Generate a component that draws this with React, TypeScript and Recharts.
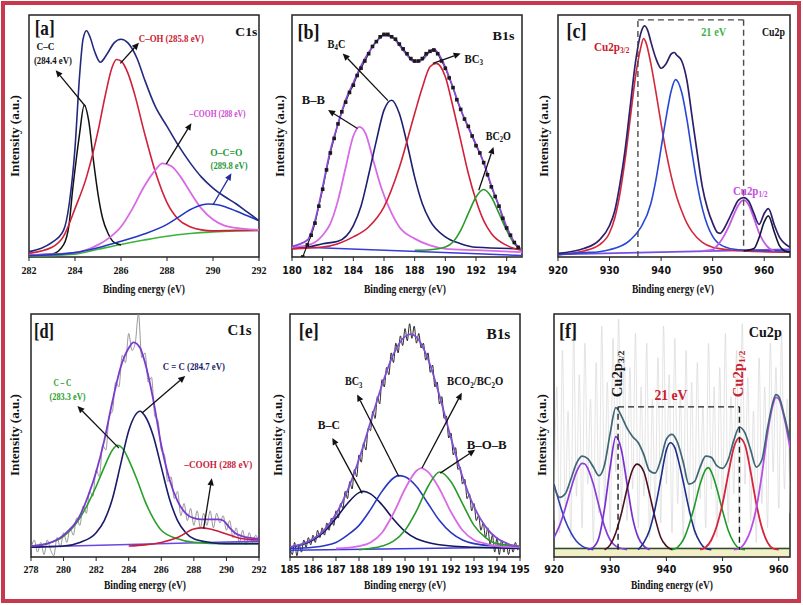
import React from 'react';
import { LineChart, Line, XAxis, YAxis, ReferenceLine, ReferenceDot, ReferenceArea } from 'recharts';

type Pt = [number, number];

const SERIF = '"Liberation Serif", "Times New Roman", Times, serif';
const NARROW = '"Liberation Sans Narrow", "Arial Narrow", "DejaVu Sans Condensed", "Liberation Sans", sans-serif';

// ---------- [a] C1s ----------
const aTicks = [282, 284, 286, 288, 290, 292];
const aBase: Pt[] = [[282, 0.4], [284, 1.2], [285, 3.2], [286, 5.2], [287, 7], [288, 8.6], [289, 9.7], [290, 10.4], [291, 10.8], [292, 11]];
const aCC: Pt[] = [[282, 0.8], [283, 1.2], [283.5, 5], [283.75, 14], [283.9, 28], [284.05, 40], [284.2, 51], [284.4, 62.7], [284.6, 56], [284.8, 40], [285, 26], [285.2, 16], [285.45, 9.5], [285.7, 6], [286, 5]];
const aCOH: Pt[] = [[282, 1.5], [283, 4], [283.5, 8.5], [284, 20], [284.5, 33], [285, 52], [285.3, 66], [285.6, 78], [285.8, 81.6], [286, 81], [286.3, 76], [286.6, 67], [287, 52], [287.5, 35], [288, 22.5], [288.5, 15.5], [289, 12.5], [289.5, 11.2], [290, 10.8], [291, 11], [292, 11]];
const aCOOH: Pt[] = [[282, 0.8], [284, 1.8], [285, 5], [285.5, 8], [286, 12.5], [286.5, 20], [287, 29], [287.5, 36], [287.8, 38.7], [288.2, 37.5], [288.6, 33], [289, 27], [289.5, 20], [290, 15.5], [290.5, 13], [291, 12], [292, 11.2]];
const aOCO: Pt[] = [[282, 0.5], [284, 1.8], [285, 3.8], [286, 6.5], [287, 9.5], [288, 13.5], [288.5, 16.5], [289, 19.5], [289.5, 21.5], [289.8, 21.9], [290.2, 21.6], [290.6, 20.5], [291, 19], [291.5, 17], [292, 15]];
const aEnvelope: Pt[] = [[282, 2.2], [282.5, 3.5], [283, 6], [283.5, 11], [283.75, 22], [284, 45], [284.2, 75], [284.35, 90], [284.5, 93.5], [284.65, 91], [284.85, 85], [285.1, 80.5], [285.4, 84], [285.7, 88.5], [286, 90], [286.3, 88.5], [286.7, 82], [287, 74], [287.5, 62], [288, 54], [288.5, 46], [289, 39], [289.5, 33], [290, 28.5], [290.5, 25], [291, 22], [291.5, 18.5], [292, 15]];

// ---------- [b] B1s ----------
const bTicks = [180, 182, 184, 186, 188, 190, 192, 194];
const bBase: Pt[] = [[180, 4.2], [195, 0.6]];
const bBB: Pt[] = [[180, 4.1], [181, 4.8], [182, 9], [182.5, 13.8], [183, 23.4], [183.5, 37], [184, 50], [184.4, 53.8], [184.8, 51], [185.3, 40], [185.8, 29], [186.5, 18], [187, 12.4], [188, 7.6], [189, 4.8], [190, 3.4], [192, 2.8], [195, 2]];
const bB4C: Pt[] = [[180, 3.4], [181, 4], [182, 5.5], [183, 6.5], [184, 13], [184.5, 21], [185, 34], [185.5, 48], [186, 60.7], [186.5, 64.8], [187, 59.3], [187.5, 47], [188, 33], [188.5, 22], [189, 15], [190, 8.3], [191, 5.5], [192, 4], [195, 3.4]];
const bBC3: Pt[] = [[180, 3.4], [182, 4.1], [183, 5.5], [184, 8.3], [185, 12.4], [186, 20.7], [187, 37], [188, 59.3], [188.5, 70], [189, 78.6], [189.4, 80], [190, 74.5], [190.5, 62], [191, 48.3], [191.5, 34.5], [192, 23.4], [192.5, 15], [193, 9.7], [194, 4.8], [195, 2.8]];
const bBC2O: Pt[] = [[188, 2.8], [189, 3], [190, 4.1], [190.5, 6.2], [191, 11], [191.5, 18], [192, 24.8], [192.5, 27.9], [193, 24.8], [193.5, 18], [194, 11], [194.5, 5.5], [195, 2.8]];
const bEnvelope: Pt[] = [[180, 4.4], [181, 7], [181.5, 15], [182, 29], [182.5, 44], [183, 55], [183.5, 65], [184, 72], [184.5, 79], [185, 84.5], [185.5, 89], [186, 91.5], [186.5, 91], [187, 87.5], [187.5, 83.5], [188, 80.5], [188.5, 81.5], [189, 85], [189.25, 86], [189.5, 84.5], [190, 78.5], [190.5, 70], [191, 61], [191.5, 53.5], [192, 46.5], [192.5, 39], [193, 29.5], [193.5, 21], [194, 12.5], [194.5, 6], [195, 3]];
const bData: Pt[] = [[180.7, 0], [181, 5], [181.25, 9], [181.5, 14], [181.75, 21], [182, 28], [182.25, 36], [182.5, 43], [182.75, 49], [183, 55], [183.25, 60], [183.5, 64], [183.75, 68], [184, 71], [184.25, 75], [184.5, 78], [184.75, 81], [185, 84], [185.25, 87], [185.5, 89], [185.75, 91], [186, 92], [186.25, 92], [186.5, 91], [186.75, 90], [187, 88], [187.25, 86], [187.5, 84], [187.75, 82], [188, 81], [188.25, 81], [188.5, 82], [188.75, 84], [189, 85], [189.25, 85.5], [189.5, 84], [189.75, 81], [190, 78], [190.25, 74], [190.5, 70], [190.75, 65], [191, 61], [191.25, 57], [191.5, 54], [191.75, 50], [192, 46], [192.25, 43], [192.5, 39], [192.75, 34], [193, 29], [193.25, 25], [193.5, 21], [193.75, 16], [194, 12], [194.25, 9], [194.5, 6], [194.75, 4]];

// ---------- [c] Cu2p ----------
const cTicks = [920, 930, 940, 950, 960];
const cBase: Pt[] = [[920, 1.1], [965, 3.2]];
const cRed: Pt[] = [[920, 1], [925, 2.5], [928, 5], [930, 10], [931, 16], [932, 26], [933, 40], [934, 57], [935, 74], [936, 86], [936.6, 90.3], [937, 89], [938, 80], [939, 68], [940, 55], [941, 43], [942, 33], [943, 25], [944, 19], [945, 14], [946, 10.5], [948, 6], [950, 4], [953, 3], [956, 2.5], [965, 2]];
const cBlue: Pt[] = [[920, 1], [925, 1.8], [928, 2.2], [930, 3], [934, 7], [936, 12], [938, 22], [939, 32], [940, 45], [941, 58], [942, 69], [942.8, 73.3], [944, 68], [945, 57], [946, 43], [947, 30], [948, 20], [949, 13], [950, 8.5], [952, 4.5], [955, 3], [965, 2.5]];
const cMag: Pt[] = [[948, 2.5], [950, 3], [951, 5], [952, 8], [953, 12], [954, 17], [955, 21.5], [956, 23.5], [957, 21.5], [958, 16], [959, 10], [960, 6], [961, 3.5], [962, 2.5]];
const cSat: Pt[] = [[956, 2.5], [958, 3.5], [959, 8], [960, 14.5], [960.8, 17], [962, 10], [963, 4.5], [964, 2.5], [965, 2]];
const cEnvelope: Pt[] = [[920, 1.5], [925, 3.5], [928, 7], [930, 13], [931, 19], [932, 30], [933, 44], [934, 62], [935, 80], [936, 92], [936.8, 95.5], [937.5, 93], [938, 89], [939, 82], [940, 78], [941, 80], [942, 84], [942.6, 84.5], [943, 83.5], [944, 81], [945, 73], [946, 58], [947, 43], [948, 29], [949, 20], [950, 14], [951, 10], [951.5, 9.8], [952, 11], [953, 15], [954, 19.5], [955, 23.5], [956, 24.5], [957, 23], [958, 18], [959, 13.5], [960, 18], [960.8, 20], [962, 13], [963, 8], [964, 5.5], [965, 4]];

// ---------- [d] C1s ----------
const dTicks = [278, 280, 282, 284, 286, 288, 290, 292];
const dBase: Pt[] = [[278, 4.1], [292, 6.5]];
const dNoise = [3, 7, 2, 6, 1, 7, 3, 0.5, 8, 4, 10, 6, 12, 9, 16, 13, 21, 18, 27, 25, 36, 33, 46, 44, 58, 60, 72, 70, 83, 80, 92, 85, 88, 100, 82, 84, 72, 74, 58, 56, 44, 42, 31, 33, 24, 27, 17, 22, 15, 20, 13, 19, 12, 18, 13, 19, 12, 18, 14, 17, 11, 15, 8, 12, 6, 11, 5, 10, 6, 9, 5];
const dGreen: Pt[] = [[278, 4.5], [279, 5.5], [280, 8.5], [281, 16], [281.5, 22], [282, 29], [282.5, 37], [283, 44], [283.3, 46], [283.7, 44], [284, 40], [284.5, 32], [285, 23], [285.5, 16], [286, 11], [287, 7.5], [288, 6], [290, 5.5], [292, 5.5]];
const dNavy: Pt[] = [[278, 4], [279, 4.2], [280, 4.5], [281, 6], [282, 10], [282.5, 15], [283, 24], [283.5, 38], [284, 52], [284.7, 60], [285, 58], [285.5, 50], [286, 37], [286.5, 24], [287, 15], [287.5, 10], [288, 7.5], [289, 6], [290, 5.5], [292, 5.5]];
const dRed: Pt[] = [[284, 4.5], [285, 5], [286, 6], [287, 8], [288, 11.5], [288.5, 12], [289, 11.5], [290, 9.5], [291, 7.5], [292, 7]];
const dEnvelope: Pt[] = [[278, 4.5], [279, 5.5], [280, 9], [281, 17], [281.5, 25], [282, 35], [282.5, 48], [283, 64], [283.5, 78], [284, 86], [284.3, 88.3], [284.7, 86], [285, 80], [285.5, 65], [286, 46], [286.5, 32], [287, 23], [287.5, 18], [288, 16], [288.5, 15.5], [289, 15.5], [289.5, 15.5], [289.8, 15], [290.2, 12], [290.5, 10], [291, 8.5], [292, 7.5]];

// ---------- [e] B1s ----------
const eTicks = [185, 186, 187, 188, 189, 190, 191, 192, 193, 194, 195];
const eBase: Pt[] = [[185, 2.8], [195, 4.1]];
const eNoise = [
  4, 1, 6, 0.5, 5, 2, 7, 4, 8, 5,
  9, 6, 11, 8, 12, 9, 14, 11, 16, 13,
  19, 16, 22, 20, 27, 24, 31, 28, 36, 33,
  42, 39, 47, 44, 53, 52, 60, 57, 66, 63,
  73, 70, 78, 75, 84, 80, 88, 84, 91, 87,
  94, 89, 96, 90, 95, 88, 92, 86, 88, 81,
  84, 76, 79, 70, 72, 63, 66, 57, 58, 49,
  51, 42, 45, 36, 37, 30, 32, 24, 26, 19,
  22, 15, 17, 11, 14, 8, 12, 5, 9, 2,
  8, 1, 7, 2, 6, 1, 5, 2, 6, 3,
  5,
];
const eBC: Pt[] = [[185, 4], [185.5, 5], [186, 7], [186.5, 10.5], [187, 16], [187.5, 22], [188, 26.5], [188.2, 27], [188.5, 26], [189, 21.5], [189.5, 15.5], [190, 10.5], [190.5, 7.5], [191, 6], [192, 4.5], [193, 4], [195, 3.5]];
const eBC3: Pt[] = [[185, 3.5], [186, 4], [187, 6], [187.5, 9], [188, 13], [188.5, 19.5], [189, 27], [189.5, 32.5], [189.7, 33.5], [190, 33], [190.5, 29], [191, 22], [191.5, 15], [192, 10], [192.5, 7], [193, 5.5], [194, 4.5], [195, 4]];
const eBCO: Pt[] = [[187, 3.5], [188, 4.5], [188.5, 6], [189, 10], [189.5, 18], [190, 28], [190.5, 35.5], [190.7, 36.6], [191, 35], [191.5, 28], [192, 18.5], [192.5, 11], [193, 7], [193.5, 5.5], [194, 4.5], [195, 4]];
const eBOB: Pt[] = [[188, 3], [189, 4.5], [189.5, 6.5], [190, 11], [190.5, 19], [191, 29], [191.5, 35], [192, 31], [192.5, 22], [193, 13], [193.5, 8], [194, 5.5], [195, 4.5]];
const eEnvelope: Pt[] = [[185, 4.2], [185.5, 5.3], [186, 7.4], [186.5, 11.3], [187, 17.7], [187.5, 27.3], [188, 40.2], [188.5, 55.5], [189, 70.8], [189.5, 83.5], [190, 90.7], [190.25, 91.7], [190.5, 90.5], [191, 81.5], [191.5, 66.4], [192, 48.9], [192.5, 33], [193, 20.7], [193.5, 12.5], [194, 7.7], [194.5, 5.3], [195, 4.2]];

// ---------- [f] Cu2p ----------
const fTicks = [920, 930, 940, 950, 960];
const fBase: Pt[] = [[920, 3.5], [962, 3.5]];
const fNoise = [
  15, 70, 10, 85, 20, 60, 8, 92, 25, 75,
  12, 88, 30, 65, 6, 80, 18, 95, 22, 72,
  10, 90, 35, 98, 20, 85, 15, 78, 28, 92,
  12, 70, 25, 88, 8, 65, 20, 82, 14, 95,
  30, 75, 10, 90, 22, 68, 6, 85, 18, 72,
  9, 80, 24, 62, 12, 88, 28, 70, 8, 78,
  20, 92, 14, 66, 26, 85, 10, 96, 30, 74,
  15, 60, 6, 82, 22, 70, 12, 88, 35, 78,
  20, 92, 28, 65, 18,
];
const fBlue: Pt[] = [[920, 30], [921, 22], [922, 15], [923, 10], [924, 6.5], [925, 4.5], [926, 3.5], [927, 3]];
const fViolet: Pt[] = [[920, 8], [921, 13], [922, 20], [923, 28], [924, 35], [925, 38.5], [925.5, 38.3], [926, 36.5], [927, 30], [928, 21], [929, 12.5], [930, 7], [931, 4.5], [932, 3.5], [933, 3]];
const fPurple: Pt[] = [[926, 3], [927, 4], [928, 8], [929, 20], [930, 37], [931, 49.5], [932, 44], [933, 30], [934, 16], [935, 8], [936, 4.5], [937, 3]];
const fMaroon: Pt[] = [[929, 3], [930, 5], [931, 10], [932, 18], [933, 28], [934, 36], [934.8, 38.2], [936, 35], [937, 26], [938, 16], [939, 8], [940, 4.5], [941, 3]];
const fNavy: Pt[] = [[935, 3], [936, 6], [937, 11], [938, 20], [939, 32], [940, 44], [940.7, 47], [941.5, 45], [942, 41], [943, 31], [944, 20], [945, 11], [946, 6], [947, 3.5], [948, 3]];
const fGreen: Pt[] = [[941, 3], [942, 4], [943, 7], [944, 13], [945, 21], [946, 30], [947, 36], [947.5, 36.8], [948, 35], [949, 28], [950, 19], [951, 11], [952, 6], [953, 3.5], [954, 3]];
const fRed: Pt[] = [[946, 3], [947, 4], [948, 7], [949, 13], [950, 22], [951, 34], [952, 45], [953, 49], [954, 46], [955, 35], [956, 22], [957, 12], [958, 6], [959, 3.5], [960, 3]];
const fMagenta: Pt[] = [[952, 3], [953, 3.5], [954, 6], [955, 11], [956, 20], [957, 34], [958, 51], [959, 63], [959.5, 65.7], [960, 65], [961, 57], [962, 45]];
const fEnvelope: Pt[] = [[920, 29], [921, 24.5], [922, 26], [923, 32], [924, 38.5], [925, 41.5], [926, 40.5], [927, 37], [928, 33.5], [929, 38], [930, 51], [931, 61.5], [932, 58], [933, 53], [934, 49.5], [935, 47], [936, 42], [937, 35.5], [938, 34.5], [939, 40], [940, 48.5], [941, 50.5], [942, 47], [943, 39], [944, 30], [945, 31], [946, 37], [947, 41.5], [948, 41], [949, 37.5], [950, 36.5], [951, 40], [952, 48], [953, 53.5], [954, 51], [955, 44], [956, 37], [957, 40], [958, 53], [959, 64], [959.5, 66.8], [960, 66], [961, 58], [962, 48]];

const xTitles: Pt[] = [[144, 289], [405, 289], [673, 289], [145, 585], [405, 585], [672, 585]];
const yTitles: Pt[] = [[15, 136], [280, 136], [544, 136], [15, 435], [278, 435], [542, 435]];

type Part = [string, boolean?];
type Lab = { x: number; y: number; parts: Part[]; color: string; size: number; w?: number; sx?: number; rot?: boolean };
type Arrow = { from: Pt; to: Pt; color?: string };
type Series = { data: Pt[]; color: string; width: number; squares?: boolean };
type Panel = {
  left: number; top: number; width: number; height: number;
  plot: { l: number; t: number; r: number; b: number };
  domain: [number, number]; ticks: number[]; tickFont: string; tickFs: number; tickMargin: number;
  series: Series[]; labels: Lab[]; arrows: Arrow[]; dashes: Pt[][]; dashColor?: string; band?: boolean;
};

const seq = (start: number, step: number, ys: number[]): Pt[] => ys.map((y, i) => [+(start + i * step).toFixed(2), y]);

const K = '#141414';
const txt = (s: string): Part[] => [[s]];

const panels: Panel[] = [
  {
    left: 1, top: 0, width: 272, height: 300, plot: { l: 29, t: 15, r: 259, b: 257 },
    domain: [282, 292], ticks: aTicks, tickFont: SERIF, tickFs: 10, tickMargin: 6,
    series: [
      { data: aBase, color: '#3bb33b', width: 1.6 },
      { data: aCC, color: '#111111', width: 1.5 },
      { data: aCOH, color: '#d0203a', width: 1.6 },
      { data: aCOOH, color: '#d86ae6', width: 1.8 },
      { data: aOCO, color: '#2238c4', width: 1.6 },
      { data: aEnvelope, color: '#232a7e', width: 1.6 },
    ],
    labels: [
      { x: 282.68, y: 94.5, parts: txt('[a]'), color: K, size: 21, w: 20 },
      { x: 291.45, y: 93, parts: txt('C1s'), color: K, size: 13, w: 22 },
      { x: 282.72, y: 86.9, parts: txt('C–C'), color: K, size: 10.5, w: 18 },
      { x: 283.04, y: 81.3, parts: txt('(284.4 eV)'), color: K, size: 10.5, w: 38 },
      { x: 288.19, y: 90.3, parts: txt('C–OH (285.8 eV)'), color: '#c8202e', size: 10.5, w: 65 },
      { x: 290.2, y: 59.2, parts: txt('–COOH (288 eV)'), color: '#d04ad6', size: 10.5, w: 56 },
      { x: 290.58, y: 43.3, parts: txt('O–C=O'), color: '#1f9a3a', size: 10.5, w: 32 },
      { x: 290.7, y: 38, parts: txt('(289.8 eV)'), color: '#1f9a3a', size: 10.5, w: 37 },
    ],
    arrows: [
      { from: [284.46, 62.2], to: [283.16, 77.2] },
      { from: [285.97, 80], to: [286.78, 88.5] },
      { from: [287.97, 38.5], to: [289.06, 55.3] },
      { from: [290.0, 21.6], to: [290.8, 34.6], color: '#1f2fa0' },
    ],
    dashes: [],
  },
  {
    left: 268, top: 0, width: 272, height: 300, plot: { l: 292, t: 15, r: 522, b: 257 },
    domain: [180, 195], ticks: bTicks, tickFont: NARROW, tickFs: 10.5, tickMargin: 6,
    series: [
      { data: bBase, color: '#3a3ad8', width: 1.5 },
      { data: bBB, color: '#d86ae6', width: 1.8 },
      { data: bB4C, color: '#1c1f6e', width: 1.6 },
      { data: bBC3, color: '#d0203a', width: 1.6 },
      { data: bBC2O, color: '#2a9a2a', width: 1.6 },
      { data: bData, color: '#1a1a1a', width: 1.2, squares: true },
      { data: bEnvelope, color: '#8a4ad8', width: 1.8 },
    ],
    labels: [
      { x: 181.07, y: 93.1, parts: txt('[b]'), color: K, size: 21, w: 22 },
      { x: 193.8, y: 91.7, parts: txt('B1s'), color: K, size: 13, w: 22 },
      { x: 182.9, y: 88.3, parts: [['B'], ['4', true], ['C']], color: K, size: 12, sx: 0.86 },
      { x: 191.86, y: 82, parts: [['BC'], ['3', true]], color: K, size: 12, sx: 0.9 },
      { x: 181.39, y: 64.8, parts: txt('B–B'), color: K, size: 12, w: 23 },
      { x: 193.46, y: 50.3, parts: [['BC'], ['2', true], ['O']], color: K, size: 12, sx: 0.84 },
    ],
    arrows: [
      { from: [186.26, 64.6], to: [183.31, 84.1] },
      { from: [189.19, 80], to: [191.0, 84.1] },
      { from: [184.27, 53.1], to: [182.35, 60.7] },
      { from: [192.18, 27.6], to: [193.14, 45.5] },
    ],
    dashes: [],
  },
  {
    left: 530, top: 0, width: 273, height: 300, plot: { l: 558, t: 15, r: 790, b: 257 },
    domain: [920, 965], ticks: cTicks, tickFont: NARROW, tickFs: 10.5, tickMargin: 6,
    series: [
      { data: cBase, color: '#7a4fe0', width: 1.6 },
      { data: cRed, color: '#d3283c', width: 1.6 },
      { data: cBlue, color: '#2747d6', width: 1.6 },
      { data: cMag, color: '#c45ae6', width: 1.8 },
      { data: cSat, color: '#15153a', width: 1.6 },
      { data: cEnvelope, color: '#2f1f6a', width: 1.7 },
    ],
    labels: [
      { x: 923.6, y: 93.5, parts: txt('[c]'), color: K, size: 21, w: 20 },
      { x: 961.8, y: 93, parts: txt('Cu2p'), color: K, size: 12, w: 23 },
      { x: 950.2, y: 93, parts: txt('21 eV'), color: '#3db34a', size: 12, w: 25 },
      { x: 930.4, y: 86.9, parts: [['Cu2p'], ['3/2', true]], color: '#c8202e', size: 12, sx: 0.93 },
      { x: 957.3, y: 27.4, parts: [['Cu2p'], ['1/2', true]], color: '#c44ee0', size: 12, sx: 0.91 },
    ],
    arrows: [],
    dashes: [[[935.5, 0], [935.5, 98]], [[935.5, 98], [956, 98]], [[956, 98], [956, 3.2]]],
    dashColor: '#4a4a4a',
  },
  {
    left: -1, top: 300, width: 272, height: 305, plot: { l: 31, t: 314, r: 259, b: 557 },
    domain: [278, 292], ticks: dTicks, tickFont: SERIF, tickFs: 10, tickMargin: 5,
    series: [
      { data: seq(278, 0.2, dNoise), color: '#8c8c8c', width: 0.9 },
      { data: dBase, color: '#6a48e0', width: 1.6 },
      { data: dGreen, color: '#2aa02a', width: 1.6 },
      { data: dNavy, color: '#1b1b6b', width: 1.6 },
      { data: dRed, color: '#c81e3c', width: 1.6 },
      { data: dEnvelope, color: '#7a3ad0', width: 1.8 },
    ],
    labels: [
      { x: 278.8, y: 93.1, parts: txt('[d]'), color: K, size: 21, w: 20 },
      { x: 290.8, y: 93.1, parts: txt('C1s'), color: K, size: 14, w: 24 },
      { x: 288.0, y: 78.6, parts: txt('C = C (284.7 eV)'), color: '#1b1b6b', size: 10.5, w: 62 },
      { x: 279.93, y: 71.7, parts: txt('C – C'), color: '#2aa02a', size: 10.5, w: 18 },
      { x: 280.24, y: 66.2, parts: txt('(283.3 eV)'), color: '#2aa02a', size: 10.5, w: 36 },
      { x: 289.5, y: 37.9, parts: txt('–COOH (288 eV)'), color: '#c81e3c', size: 10.5, w: 68 },
    ],
    arrows: [
      { from: [284.82, 59.3], to: [287.47, 74.5] },
      { from: [283.4, 44.8], to: [280.85, 62.1] },
      { from: [288.6, 11.7], to: [289.1, 32.4] },
    ],
    dashes: [],
  },
  {
    left: 266, top: 300, width: 272, height: 305, plot: { l: 290, t: 314, r: 520, b: 557 },
    domain: [185, 195], ticks: eTicks, tickFont: NARROW, tickFs: 10.5, tickMargin: 5,
    series: [
      { data: seq(185, 0.1, eNoise), color: '#111111', width: 0.9 },
      { data: eBase, color: '#3a3ad8', width: 1.5 },
      { data: eBC, color: '#151560', width: 1.6 },
      { data: eBC3, color: '#2838c0', width: 1.6 },
      { data: eBCO, color: '#d86ae6', width: 1.8 },
      { data: eBOB, color: '#2a9a2a', width: 1.6 },
      { data: eEnvelope, color: '#8050d0', width: 1.8 },
    ],
    labels: [
      { x: 185.82, y: 93.1, parts: txt('[e]'), color: K, size: 21, w: 20 },
      { x: 194.06, y: 91.7, parts: txt('B1s'), color: K, size: 14, w: 24 },
      { x: 187.77, y: 72.4, parts: [['BC'], ['3', true]], color: K, size: 12, sx: 0.85 },
      { x: 186.69, y: 54.5, parts: txt('B–C'), color: K, size: 12, w: 22 },
      { x: 193.05, y: 72.4, parts: [['BCO'], ['2', true], ['/BC'], ['2', true], ['O']], color: K, size: 12, sx: 0.89 },
      { x: 193.55, y: 46.2, parts: txt('B–O–B'), color: K, size: 12, w: 40 },
    ],
    arrows: [
      { from: [189.73, 33.1], to: [187.92, 66.9] },
      { from: [188.14, 26.2], to: [186.84, 49] },
      { from: [190.74, 36.6], to: [192.47, 67.6] },
      { from: [191.53, 34.5], to: [193.05, 44.1] },
    ],
    dashes: [],
  },
  {
    left: 530, top: 300, width: 273, height: 305, plot: { l: 554, t: 314, r: 790, b: 557 },
    domain: [920, 962], ticks: fTicks, tickFont: NARROW, tickFs: 10.5, tickMargin: 5,
    band: true,
    series: [
      { data: seq(920, 0.5, fNoise), color: '#d2d2d2', width: 0.6 },
      { data: fBase, color: '#2a4a3a', width: 1.4 },
      { data: fBlue, color: '#2f3fb8', width: 1.6 },
      { data: fViolet, color: '#8b3fd9', width: 1.7 },
      { data: fPurple, color: '#7a30d0', width: 1.7 },
      { data: fMaroon, color: '#4a0f1f', width: 1.6 },
      { data: fNavy, color: '#1c2c8c', width: 1.6 },
      { data: fGreen, color: '#1f9a2a', width: 1.6 },
      { data: fRed, color: '#d6243c', width: 1.8 },
      { data: fMagenta, color: '#b64ee8', width: 1.8 },
      { data: fEnvelope, color: '#3e6674', width: 1.7 },
    ],
    labels: [
      { x: 922.5, y: 93.1, parts: txt('[f]'), color: K, size: 21, w: 18 },
      { x: 957.6, y: 92.4, parts: txt('Cu2p'), color: K, size: 15, w: 33 },
      { x: 940.8, y: 66.3, parts: txt('21 eV'), color: '#c8202e', size: 14, w: 33 },
      { x: 931.2, y: 75.3, parts: [['Cu2p'], ['3/2', true]], color: K, size: 14, sx: 1.05, rot: true },
      { x: 952.8, y: 75.3, parts: [['Cu2p'], ['1/2', true]], color: '#c8202e', size: 14, sx: 1.05, rot: true },
    ],
    arrows: [],
    dashes: [[[931.4, 3], [931.4, 61.8]], [[931.4, 61.8], [953, 61.8]], [[953, 61.8], [953, 3]]],
    dashColor: '#1e1e1e',
  },
];

const toObj = (d: Pt[]) => d.map(([x, y]) => ({ x, y }));

const labelShape = (l: Lab) => (p: any) => {
  const { cx, cy } = p;
  const multi = l.parts.length > 1;
  let tf = `translate(${cx} ${cy})`;
  if (l.rot) tf += ' rotate(-90)';
  if (multi) tf += ` scale(${l.sx ?? 0.9} 1)`;
  let prevSub = false;
  return (
    <text
      x={0}
      y={0}
      transform={tf}
      textAnchor="middle"
      dominantBaseline="central"
      fill={l.color}
      fontSize={l.size}
      fontWeight="bold"
      fontFamily={SERIF}
      textLength={!multi && l.w ? l.w : undefined}
      lengthAdjust={!multi && l.w ? 'spacingAndGlyphs' : undefined}
    >
      {multi
        ? l.parts.map(([t, sub], i) => {
            let dy = 0;
            if (sub && !prevSub) dy = l.size * 0.3;
            if (!sub && prevSub) dy = -l.size * 0.3;
            prevSub = !!sub;
            return (
              <tspan key={i} dy={dy} fontSize={sub ? l.size * 0.66 : l.size}>
                {t}
              </tspan>
            );
          })
        : l.parts[0][0]}
    </text>
  );
};

const arrowShape = (color: string) => (p: any) => {
  const { x1, y1, x2, y2 } = p;
  const a = Math.atan2(y2 - y1, x2 - x1);
  const L = 7;
  const W = 3.2;
  const bx = x2 - L * Math.cos(a);
  const by = y2 - L * Math.sin(a);
  const pts = `${x2},${y2} ${bx - W * Math.sin(a)},${by + W * Math.cos(a)} ${bx + W * Math.sin(a)},${by - W * Math.cos(a)}`;
  return (
    <g>
      <line x1={x1} y1={y1} x2={bx} y2={by} stroke={color} strokeWidth={1.3} />
      <polygon points={pts} fill={color} />
    </g>
  );
};

const squareDot = (pp: any) => (
  <rect key={pp.index} x={pp.cx - 1.8} y={pp.cy - 1.8} width={3.6} height={3.6} fill="#1a1a1a" />
);

function PanelChart({ p }: { p: Panel }) {
  const margin = { top: p.plot.t - p.top, left: p.plot.l - p.left, right: p.left + p.width - p.plot.r, bottom: 0 };
  const axisH = p.top + p.height - p.plot.b;
  return (
    <div style={{ position: 'absolute', left: p.left, top: p.top }}>
      <LineChart width={p.width} height={p.height} margin={margin}>
        <XAxis
          type="number"
          dataKey="x"
          domain={p.domain}
          ticks={p.ticks}
          interval={0}
          allowDataOverflow
          height={axisH}
          axisLine={false}
          tickLine={{ stroke: '#222' }}
          tickSize={4}
          tickMargin={p.tickMargin}
          tick={{ fontSize: p.tickFs, fontFamily: p.tickFont, fontWeight: 'bold', fill: '#111' }}
        />
        <YAxis type="number" domain={[0, 100]} hide allowDataOverflow />
        {p.band && (
          <ReferenceArea x1={p.domain[0]} x2={p.domain[1]} y1={0} y2={4} fill="#f3f0c8" fillOpacity={1} stroke="none" />
        )}
        {p.series.map((s, i) => (
          <Line
            key={i}
            data={toObj(s.data)}
            dataKey="y"
            type="monotone"
            stroke={s.color}
            strokeWidth={s.width}
            dot={s.squares ? squareDot : false}
            activeDot={false}
            isAnimationActive={false}
          />
        ))}
        {p.dashes.map((d, i) => (
          <ReferenceLine
            key={`d${i}`}
            segment={[{ x: d[0][0], y: d[0][1] }, { x: d[1][0], y: d[1][1] }]}
            stroke={p.dashColor}
            strokeWidth={1.4}
            strokeDasharray="6 4"
            ifOverflow="visible"
          />
        ))}
        {p.arrows.map((a, i) => (
          <ReferenceLine
            key={`a${i}`}
            segment={[{ x: a.from[0], y: a.from[1] }, { x: a.to[0], y: a.to[1] }]}
            stroke={a.color || '#111'}
            ifOverflow="visible"
            shape={arrowShape(a.color || '#111')}
          />
        ))}
        {p.labels.map((l, i) => (
          <ReferenceDot key={`l${i}`} x={l.x} y={l.y} r={0} ifOverflow="visible" shape={labelShape(l)} />
        ))}
        <ReferenceArea
          x1={p.domain[0]}
          x2={p.domain[1]}
          y1={0}
          y2={100}
          fill="none"
          fillOpacity={0}
          stroke="#222"
          strokeWidth={1.5}
          ifOverflow="visible"
        />
      </LineChart>
    </div>
  );
}

export default function App() {
  return (
    <div style={{ position: 'absolute', left: 0, top: 0, width: 803, height: 605, background: '#fff', overflow: 'hidden' }}>
      {panels.map((p, i) => (
        <PanelChart key={i} p={p} />
      ))}
      <svg width={803} height={605} style={{ position: 'absolute', left: 0, top: 0, pointerEvents: 'none' }}>
        {xTitles.map(([x, y], i) => (
          <text key={`x${i}`} x={x} y={y} textAnchor="middle" dominantBaseline="central" fontFamily={SERIF} fontWeight="bold" fontSize={12.5} fill="#111" textLength={82} lengthAdjust="spacingAndGlyphs">
            Binding energy (eV)
          </text>
        ))}
        {yTitles.map(([x, y], i) => (
          <text key={`y${i}`} x={x} y={y} textAnchor="middle" dominantBaseline="central" fontFamily={SERIF} fontWeight="bold" fontSize={12} fill="#111" textLength={82} lengthAdjust="spacingAndGlyphs" transform={`rotate(-90 ${x} ${y})`}>
            Intensity (a.u.)
          </text>
        ))}
      </svg>
      <div style={{ position: 'absolute', left: 1, top: 1, width: 800, height: 602, boxSizing: 'border-box', border: '4px solid #c63a4e' }} />
    </div>
  );
}
